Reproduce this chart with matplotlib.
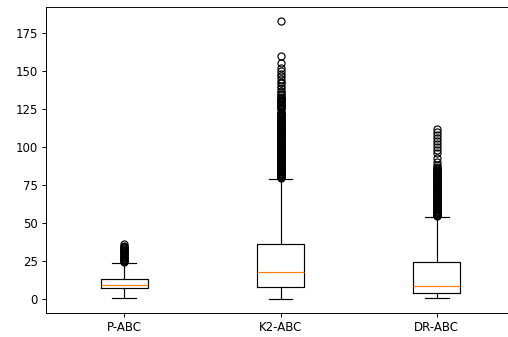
import matplotlib
matplotlib.use("Agg")
import matplotlib.pyplot as plt

labels = ["P-ABC", "K2-ABC", "DR-ABC"]
q1 = [7.3, 8.0, 4.0]
med = [9.5, 18.0, 8.7]
q3 = [13.5, 36.5, 24.5]
whislo = [1, 0, 1]
whishi = [24, 79, 54]

# outliers (dense parts are nearly continuous)
fliers_p = [24.5, 25, 25.5, 26, 26.5, 27, 27.5, 28, 28.5, 29, 29.5, 30, 30.5,
            31, 31.5, 32, 32.5, 33, 33.5, 34, 34.5, 35, 36]
fliers_k2 = [79.5, 80, 80.5, 81, 81.5, 82, 82.5, 83, 83.5, 84, 84.5, 85, 85.5,
             86, 86.5, 87, 87.5, 88, 88.5, 89, 89.5, 90, 90.5, 91, 91.5, 92,
             92.5, 93, 93.5, 94, 94.5, 95, 95.5, 96, 96.5, 97, 97.5, 98, 98.5,
             99, 99.5, 100, 100.5, 101, 101.5, 102, 102.5, 103, 103.5, 104,
             104.5, 105, 105.5, 106, 106.5, 107, 107.5, 108, 108.5, 109, 109.5,
             110, 110.5, 111, 111.5, 112, 112.5, 113, 113.5, 114, 114.5, 115,
             115.5, 116, 116.5, 117, 117.5, 118, 118.5, 119, 119.5, 120, 120.5,
             121, 121.5, 122, 122.5, 123, 125, 125.5, 126, 126.5, 127, 127.5,
             128, 128.5, 129, 129.5, 130, 130.5, 131, 131.5, 132, 132.5, 133,
             134, 135, 136, 137, 139, 140, 142, 143, 145, 147, 148, 150, 152,
             155, 160, 183]
fliers_dr = [54.5, 55, 55.5, 56, 56.5, 57, 57.5, 58, 58.5, 59, 59.5, 60, 60.5,
             61, 61.5, 62, 62.5, 63, 63.5, 64, 64.5, 65, 65.5, 66, 66.5, 67,
             67.5, 68, 68.5, 69, 69.5, 70, 70.5, 71, 71.5, 72, 72.5, 73, 73.5,
             74, 74.5, 75, 75.5, 76, 76.5, 77, 77.5, 78, 78.5, 79, 79.5, 80,
             80.5, 81, 81.5, 82, 82.5, 83, 83.5, 84, 84.5, 85, 85.5, 86, 87, 88,
             90, 93, 96, 98, 100, 102, 104, 106, 108, 110, 112]
fliers = [fliers_p, fliers_k2, fliers_dr]

stats = []
for i in range(len(labels)):
    stats.append(dict(label=labels[i], q1=q1[i], med=med[i], q3=q3[i],
                      whislo=whislo[i], whishi=whishi[i], fliers=fliers[i]))

W, H = 508, 337
DPI = 85
fig = plt.figure(figsize=(W / DPI, H / DPI), dpi=DPI)
ax = fig.add_axes([46 / W, 24 / H, 469 / W, 306 / H])
ax.bxp(stats)

fig.savefig("out.png", dpi=DPI)
